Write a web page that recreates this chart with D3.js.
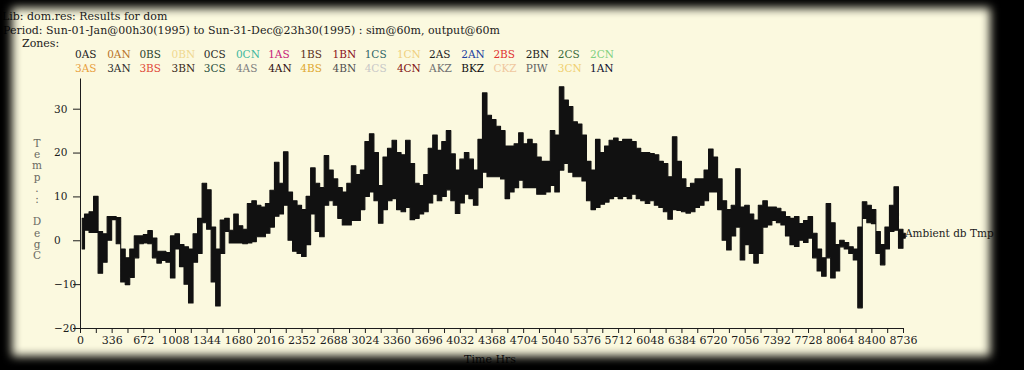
<!DOCTYPE html>
<html>
<head>
<meta charset="utf-8">
<script src="https://cdn.jsdelivr.net/npm/d3@7"></script>
<style>
  body { margin: 0; background: #000; }
  svg { display: block; }
</style>
</head>
<body>
<script>
'use strict';

// ---- data ----
const titleLines = [
  "Lib: dom.res: Results for dom",
  "Period: Sun-01-Jan@00h30(1995) to Sun-31-Dec@23h30(1995) : sim@60m, output@60m"
];
const zonesRow1 = ["0AS","0AN","0BS","0BN","0CS","0CN","1AS","1BS","1BN","1CS","1CN","2AS","2AN","2BS","2BN","2CS","2CN"];
const colorsRow1 = ["#1e1e1e","#b8742a","#2c422c","#f0d890","#2a2a2a","#40b8a0","#c8207a","#5a3020","#8a1020","#2f6666","#f0d080","#1e1e1e","#2040a0","#e03030","#1e1e1e","#3a6a3a","#80d080"];
const zonesRow2 = ["3AS","3AN","3BS","3BN","3CS","4AS","4AN","4BS","4BN","4CS","4CN","AKZ","BKZ","CKZ","PIW","3CN","1AN"];
const colorsRow2 = ["#e8a040","#2e2e2e","#e04838","#3a2a20","#2a5040","#808080","#301010","#e0a830","#505050","#c8c8c8","#801010","#707070","#101010","#f0c8a0","#606060","#f0d070","#101030"];

const xTickLabels = [0,336,672,1008,1344,1680,2016,2352,2688,3024,3360,3696,4032,4368,4704,5040,5376,5712,6048,6384,6720,7056,7392,7728,8064,8400,8736];
const yTickLabels = [-20,-10,0,10,20,30];
const yLabelChars = ["T","e","m","p",".",":"," ","D","e","g","C"];
const seriesName = "Ambient db Tmp";

// hourly ambient temperature, summarised as the high and low of every 48 h block
const blockHours = 48;
const highs = [
  5, 6, 6.5, 10, 2, 1.5, 5.4, 5.4, 5.2, -2,
  -4, -2, 1, 1, 1.3, 2.2, 0.5, -2.5, -2.5, -2.8,
  1, 1.5, -1, -1.5, -2, 1.5, 5, 13, 11.5, 3,
  -2, 4.6, 5, 2.3, 6, 3.3, 2.5, 8.4, 9, 8,
  7.6, 8.4, 11.4, 17.8, 13, 20.2, 11, 9, 8, 7,
  10, 16.5, 13, 12, 19.3, 16, 14, 12, 11, 13,
  17, 15, 16, 22.5, 24.3, 20, 12.5, 19, 21, 22.8,
  20, 19.5, 22.8, 17.5, 13, 12.5, 15, 21, 24, 20.5,
  22.5, 25, 19.7, 16, 18.5, 20, 18.5, 16, 23, 33.6,
  28.5, 27.5, 26, 25, 21.5, 21.5, 22, 24.5, 22, 23,
  22, 19, 18, 18, 25, 24, 35, 32, 30.5, 27,
  26.5, 24, 18, 16, 23, 20, 21.5, 22.8, 23.3, 22.5,
  23, 23, 22.5, 21, 20, 20, 19.8, 19.5, 18, 17.5,
  14.5, 23.6, 18, 14, 12, 13, 14, 14, 16, 20.8,
  19, 14, 9, 7, 8, 16.3, 7.6, 8, 6, 4.6,
  8, 9, 7.6, 7.6, 7.3, 6.5, 5.4, 5, 5.4, 3.8,
  4.5, 5.4, 1.6, -2, -4, 8.4, 4, -1, 0, -0.5,
  -1.5, -2, 3, 8.8, 8, 7, 2, -1, 3, 8,
  12.2, 2.5, 1.6
];
const lows = [
  -2, 2.3, 1.8, 1.8, -7.5, -5, 0, 4.7, -0.8, -9.5,
  -10.1, -8.5, -4, -0.8, -0.6, -0.8, -4, -5.2, -4.6, -5,
  -8.6, -2, -6, -10, -14.3, -5, -3, 4, 2.5, -9.5,
  -15, -3, 2, -0.6, -0.6, -0.6, -0.8, -0.6, -0.3, 0.8,
  0.8, 1.6, 3, 5.5, 6, 8, 0, -2.5, -3, -3.7,
  -1, 6, 2, 0.8, 8, 9, 8, 5, 3.5, 3.5,
  4.5, 4.5, 7, 10, 11, 9, 3.9, 7, 9, 9.5,
  7, 6.5, 7.5, 4.7, 5, 6, 6.5, 8.5, 10.5, 9,
  10, 11.5, 9, 6.1, 8.5, 10.5, 9.5, 8, 12, 15.5,
  14.5, 14.5, 14.5, 14, 9.5, 11, 12, 13.7, 12, 12,
  12, 10.5, 10.5, 11, 12.5, 11, 16, 17.5, 15.5, 14.5,
  14.5, 13.5, 9, 7, 7.5, 8.2, 8.7, 9.5, 10, 9.5,
  10, 9.5, 10.5, 9.5, 9, 8.4, 9, 8, 7.5, 6.5,
  4.8, 7, 6.8, 6.5, 6.2, 6.5, 7.5, 8, 9, 11,
  11, 7, 0, -2.2, 1, 3, -4.5, -1, -3, -5.2,
  -3, 3, 3.5, 4.5, 4, 3.5, 1, -1, -1.4, 0,
  -0.5, 0.5, -4, -7, -8.2, -4, -8.6, -7, -1.5, -2,
  -3, -4.5, -15.4, 5, 4, 3.8, -3, -5.6, -2, 2,
  2.3, -1.8, 0.5
];

// ---- layout ----
const width = 1024, height = 370;
const svg = d3.select("body").append("svg")
  .attr("width", width)
  .attr("height", height);

svg.append("rect")
  .attr("width", width)
  .attr("height", height)
  .attr("fill", "#fbf9df");

const serif = "'DejaVu Serif', 'Liberation Serif', serif";

// title lines
svg.selectAll(".title")
  .data(titleLines)
  .enter()
  .append("text")
    .attr("class", "title")
    .attr("x", (d, i) => i == 0 ? 2 : 3)
    .attr("y", (d, i) => 20 + i * 14)
    .attr("font-family", serif)
    .attr("font-size", "11px")
    .attr("fill", "#1c1c1c")
    .text(d => d);

svg.append("text")
  .attr("x", 22)
  .attr("y", 47)
  .attr("font-family", serif)
  .attr("font-size", "11px")
  .attr("fill", "#1c1c1c")
  .text("Zones:");

// zone legend, two rows
let legendX = d3.scalePoint()
  .domain(d3.range(zonesRow1.length))
  .range([75, 590]);

[[zonesRow1, colorsRow1, 58], [zonesRow2, colorsRow2, 72]].forEach(row => {
  svg.append("g").selectAll("text")
    .data(row[0])
    .enter()
    .append("text")
      .attr("x", (d, i) => legendX(i))
      .attr("y", row[2])
      .attr("font-family", serif)
      .attr("font-size", "10.5px")
      .attr("fill", (d, i) => row[1][i])
      .text(d => d);
});

// scales
let x = d3.scaleLinear().domain([0, 8736]).range([80, 903]);
let y = d3.scaleLinear().domain([-20, 37]).range([328, 78]);

// x axis: labels every 336 h, ticks every 168 h
let xTickValues = [];
xTickLabels.forEach((t, i) => {
  xTickValues.push(t);
  if (i < xTickLabels.length - 1) xTickValues.push(t + 168);
});
let xAxis = d3.axisBottom(x)
  .tickValues(xTickValues)
  .tickSize(5)
  .tickSizeOuter(0)
  .tickFormat(d => xTickLabels.includes(d) ? d : "");
let gx = svg.append("g")
  .attr("transform", "translate(0," + y(-20) + ")")
  .call(xAxis);
gx.selectAll("text")
  .attr("font-family", serif)
  .attr("font-size", "11px")
  .attr("fill", "#1c1c1c");
gx.selectAll("line, path").attr("stroke", "#1c1c1c");

// y axis
let yAxis = d3.axisLeft(y)
  .tickValues(yTickLabels)
  .tickSize(7)
  .tickSizeOuter(0);
let gy = svg.append("g")
  .attr("transform", "translate(" + x(0) + ",0)")
  .call(yAxis);
gy.selectAll("text")
  .attr("x", -26)
  .attr("text-anchor", "start")
  .attr("font-family", serif)
  .attr("font-size", "10.5px")
  .attr("fill", "#1c1c1c");
gy.selectAll("line, path").attr("stroke", "#1c1c1c");

// axis titles
svg.append("g").selectAll("text")
  .data(yLabelChars)
  .enter()
  .append("text")
    .attr("x", 37)
    .attr("y", (d, i) => 147 + i * 11.2)
    .attr("text-anchor", "middle")
    .attr("font-family", serif)
    .attr("font-size", "10.5px")
    .attr("fill", "#6a6a62")
    .text(d => d);

svg.append("text")
  .attr("x", 490)
  .attr("y", 363)
  .attr("text-anchor", "middle")
  .attr("font-family", serif)
  .attr("font-size", "11px")
  .attr("fill", "#1c1c1c")
  .text("Time Hrs");

// the series: band between the low and the high of each 48 h block
let blocks = highs.map((h, i) => ({ t: i * blockHours + blockHours / 2, hi: h, lo: lows[i] }));

let band = d3.area()
  .curve(d3.curveStep)
  .x(d => x(d.t))
  .y0(d => y(d.lo))
  .y1(d => y(d.hi));

svg.append("path")
  .datum(blocks)
  .attr("fill", "#111")
  .attr("stroke", "#111")
  .attr("stroke-width", 1.1)
  .attr("stroke-linejoin", "round")
  .attr("d", band);

svg.append("text")
  .attr("x", 905)
  .attr("y", y(highs[highs.length - 1]) + 4)
  .attr("font-family", serif)
  .attr("font-size", "10.5px")
  .attr("fill", "#1c1c1c")
  .text(seriesName);

// dark vignette frame on top
let defs = svg.append("defs");
defs.append("filter")
  .attr("id", "soft")
  .append("feGaussianBlur")
  .attr("stdDeviation", 5);
let mask = defs.append("mask").attr("id", "vignette");
mask.append("rect")
  .attr("width", width)
  .attr("height", height)
  .attr("fill", "#fff");
mask.append("rect")
  .attr("x", 12)
  .attr("y", 8)
  .attr("width", 978)
  .attr("height", 348)
  .attr("fill", "#000")
  .attr("filter", "url(#soft)");

svg.append("rect")
  .attr("width", width)
  .attr("height", height)
  .attr("fill", "#000")
  .attr("mask", "url(#vignette)");
</script>
</body>
</html>
